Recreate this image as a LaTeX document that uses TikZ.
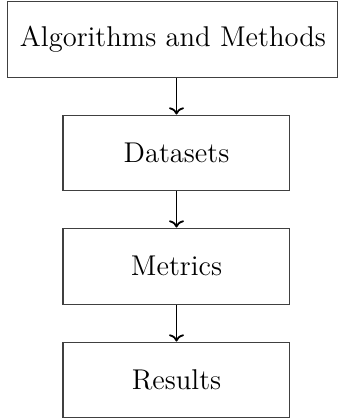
\documentclass[tikz,border=0pt]{standalone}
\usetikzlibrary{arrows.meta}
\begin{document}
\begin{tikzpicture}[x=0.5pt,y=-0.5pt,
  box/.style={draw=black!75,line width=0.5pt,rectangle,inner sep=0pt,
    minimum width=113.5pt,minimum height=37.5pt,font=\fontsize{14.3}{17}\selectfont},
  conn/.style={-{To},line width=0.9pt,black}]
\useasboundingbox (0,0) rectangle (339,419);
\node[box,minimum width=165pt,minimum height=38pt] (alg) at (173,39) {Algorithms and Methods};
\node[box] (data) at (176.5,152.5) {Datasets};
\node[box,minimum height=38pt] (met) at (176.5,266) {Metrics};
\node[box] (res) at (176.5,379.5) {Results};
\draw[conn] (data.north |- alg.south) -- (data.north);
\draw[conn] (data.south) -- (met.north);
\draw[conn] (met.south) -- (res.north);
\end{tikzpicture}
\end{document}
